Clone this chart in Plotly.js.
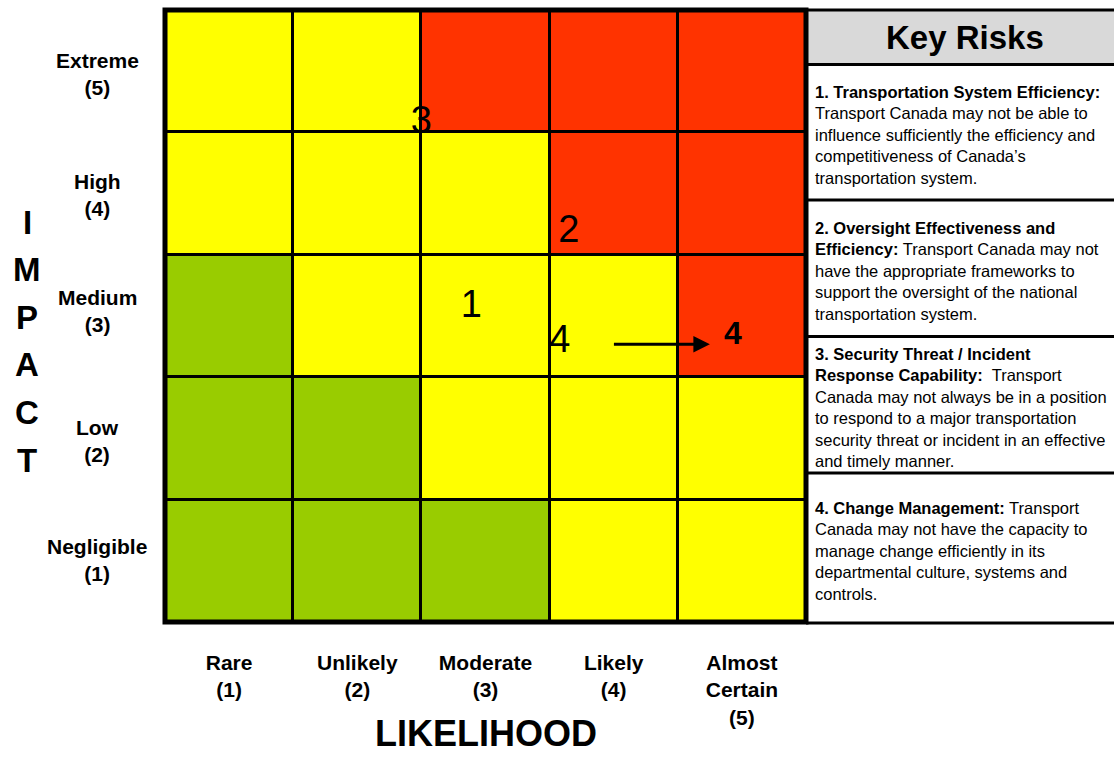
<!DOCTYPE html>
<html>
<head>
<meta charset="utf-8">
<script src="https://cdn.plot.ly/plotly-3.0.1.min.js"></script>
<style>
  html, body { margin: 0; padding: 0; background: #ffffff; }
  #chart { width: 1114px; height: 757px; }
</style>
</head>
<body>
<div id="chart"></div>
<script>
// ---------------- data ----------------
const likelihoodLevels = [1, 2, 3, 4, 5];
const impactLevels = [1, 2, 3, 4, 5];
const likelihoodLabels = ['Rare<br>(1)', 'Unlikely<br>(2)', 'Moderate<br>(3)', 'Likely<br>(4)', 'Almost<br>Certain<br>(5)'];
const impactLabels = ['Negligible<br>(1)', 'Low<br>(2)', 'Medium<br>(3)', 'High<br>(4)', 'Extreme<br>(5)'];
const xAxisTitle = 'LIKELIHOOD';
const yAxisTitle = 'IMPACT';

// rating of each cell, one row per impact level (1..5), columns = likelihood 1..5
// 1 = low (green), 2 = medium (yellow), 3 = high (red)
const ratingRow1 = [1, 1, 1, 2, 2];
const ratingRow2 = [1, 1, 2, 2, 2];
const ratingRow3 = [1, 2, 2, 2, 3];
const ratingRow4 = [2, 2, 2, 3, 3];
const ratingRow5 = [2, 2, 3, 3, 3];
const ratingColors = ['#99CC00', '#FFFF00', '#FF3300'];

// current risk positions
const riskIds = ['1', '2', '3', '4'];
const riskLikelihood = [2.89, 3.65, 2.50, 3.58];
const riskImpact = [3.07, 3.68, 4.575, 2.78];

// projected position of risk 4
const targetIds = ['4'];
const targetLikelihood = [4.93];
const targetImpact = [2.84];
const arrowFrom = [3.99, 2.77];
const arrowTo = [4.75, 2.77];

// key risks panel
const panelTitle = 'Key Risks';
const keyRiskLines = [
  ['<b>1. Transportation System Efficiency:</b>', 'Transport Canada may not be able to', 'influence sufficiently the efficiency and', 'competitiveness of Canada\u2019s', 'transportation system.'],
  ['<b>2. Oversight Effectiveness and</b>', '<b>Efficiency:</b> Transport Canada may not', 'have the appropriate frameworks to', 'support the oversight of the national', 'transportation system.'],
  ['<b>3. Security Threat / Incident</b>', '<b>Response Capability:</b>  Transport', 'Canada may not always be in a position', 'to respond to a major transportation', 'security threat or incident in an effective', 'and timely manner.'],
  ['<b>4. Change Management:</b> Transport', 'Canada may not have the capacity to', 'manage change efficiently in its', 'departmental culture, systems and', 'controls.']
];

// ---------------- layout helpers ----------------
const W = 1114, H = 757;
const M = {l: 165, r: 308, t: 10, b: 135};
const PW = W - M.l - M.r, PH = H - M.t - M.b;
const px = v => (v - M.l) / PW;          // pixel x -> paper
const py = v => (H - M.b - v) / PH;      // pixel y -> paper
const FONT = 'Liberation Sans, Arial, Helvetica, sans-serif';

const ratingZ = [ratingRow1, ratingRow2, ratingRow3, ratingRow4, ratingRow5];

const traces = [
  {
    type: 'heatmap',
    x: likelihoodLevels,
    y: impactLevels,
    z: ratingZ,
    zmin: 1, zmax: 3,
    colorscale: [[0, ratingColors[0]], [0.5, ratingColors[1]], [1, ratingColors[2]]],
    showscale: false,
    xgap: 3, ygap: 3,
    hoverinfo: 'skip'
  },
  {
    type: 'scatter',
    mode: 'text',
    x: riskLikelihood,
    y: riskImpact,
    text: riskIds,
    textposition: 'middle center',
    textfont: {family: FONT, size: 38, color: '#000'},
    hoverinfo: 'skip',
    showlegend: false
  },
  {
    type: 'scatter',
    mode: 'text',
    x: targetLikelihood,
    y: targetImpact,
    text: targetIds,
    textposition: 'middle center',
    textfont: {family: FONT, size: 32, color: '#000', weight: 'bold'},
    hoverinfo: 'skip',
    showlegend: false
  }
];

const annotations = [];
// arrow
annotations.push({
  x: arrowTo[0], y: arrowTo[1], ax: arrowFrom[0], ay: arrowFrom[1],
  xref: 'x', yref: 'y', axref: 'x', ayref: 'y',
  text: '', showarrow: true, arrowhead: 2, arrowsize: 1.1, arrowwidth: 3, arrowcolor: '#000', standoff: 0
});
// impact (y) labels, centered
const impactLabelShift = [1, -3, 5, -1, -3];
impactLevels.forEach((lv, i) => {
  annotations.push({
    xref: 'paper', yref: 'y', x: px(97), y: lv, xanchor: 'center', yanchor: 'middle',
    yshift: impactLabelShift[i],
    text: impactLabels[i], align: 'center', showarrow: false,
    font: {family: FONT, size: 21, color: '#000', weight: 'bold'}
  });
});
// x axis title
annotations.push({
  xref: 'paper', yref: 'paper', x: 0.5, y: py(733), xanchor: 'center', yanchor: 'middle',
  text: xAxisTitle, showarrow: false,
  font: {family: FONT, size: 36, color: '#000', weight: 'bold'}
});
// y axis title, stacked letters
yAxisTitle.split('').forEach((ch, i) => {
  annotations.push({
    xref: 'paper', yref: 'paper', x: px(27), y: py(222 + i * 47.6), xanchor: 'center', yanchor: 'middle',
    text: ch, showarrow: false,
    font: {family: FONT, size: 33, color: '#000', weight: 'bold'}
  });
});
// panel title
annotations.push({
  xref: 'paper', yref: 'paper', x: px(965), y: py(38), xanchor: 'center', yanchor: 'middle',
  text: panelTitle, showarrow: false,
  font: {family: FONT, size: 33, color: '#000', weight: 'bold'}
});
// panel blocks
const blockCenters = [135, 270.5, 407.5, 551];
keyRiskLines.forEach((lines, i) => {
  annotations.push({
    xref: 'paper', yref: 'paper', x: px(813), y: py(blockCenters[i]), xanchor: 'left', yanchor: 'middle',
    text: lines.join('<br>'), align: 'left', showarrow: false,
    font: {family: FONT, size: 16.5, color: '#000'}
  });
});

const shapes = [];
// header background
shapes.push({type: 'rect', xref: 'paper', yref: 'paper', x0: px(806), x1: px(1114), y0: py(10), y1: py(64.5),
  fillcolor: '#D9D9D9', line: {width: 0}, layer: 'below'});
// panel separators
[10, 64.5, 200, 336.5, 473, 623].forEach(yy => {
  shapes.push({type: 'line', xref: 'paper', yref: 'paper', x0: px(806), x1: px(1114), y0: py(yy), y1: py(yy),
    line: {color: '#000', width: 3}});
});
// outer border of the matrix
shapes.push({type: 'rect', xref: 'paper', yref: 'paper', x0: 0, x1: 1, y0: 0, y1: 1,
  line: {color: '#000', width: 5}, fillcolor: 'rgba(0,0,0,0)'});

const layout = {
  width: W, height: H,
  margin: M,
  paper_bgcolor: '#ffffff',
  plot_bgcolor: '#000000',
  showlegend: false,
  font: {family: FONT, color: '#000'},
  xaxis: {
    range: [0.5, 5.5], fixedrange: true,
    tickmode: 'array', tickvals: likelihoodLevels, ticktext: likelihoodLabels,
    tickfont: {family: FONT, size: 21, color: '#000', weight: 'bold'},
    ticks: '', showgrid: false, zeroline: false, showline: false,
    ticklabelstandoff: 26
  },
  yaxis: {
    range: [0.5, 5.5], fixedrange: true,
    showticklabels: false, ticks: '', showgrid: false, zeroline: false, showline: false
  },
  annotations: annotations,
  shapes: shapes
};

Plotly.newPlot('chart', traces, layout, {displayModeBar: false, staticPlot: true});
</script>
</body>
</html>
